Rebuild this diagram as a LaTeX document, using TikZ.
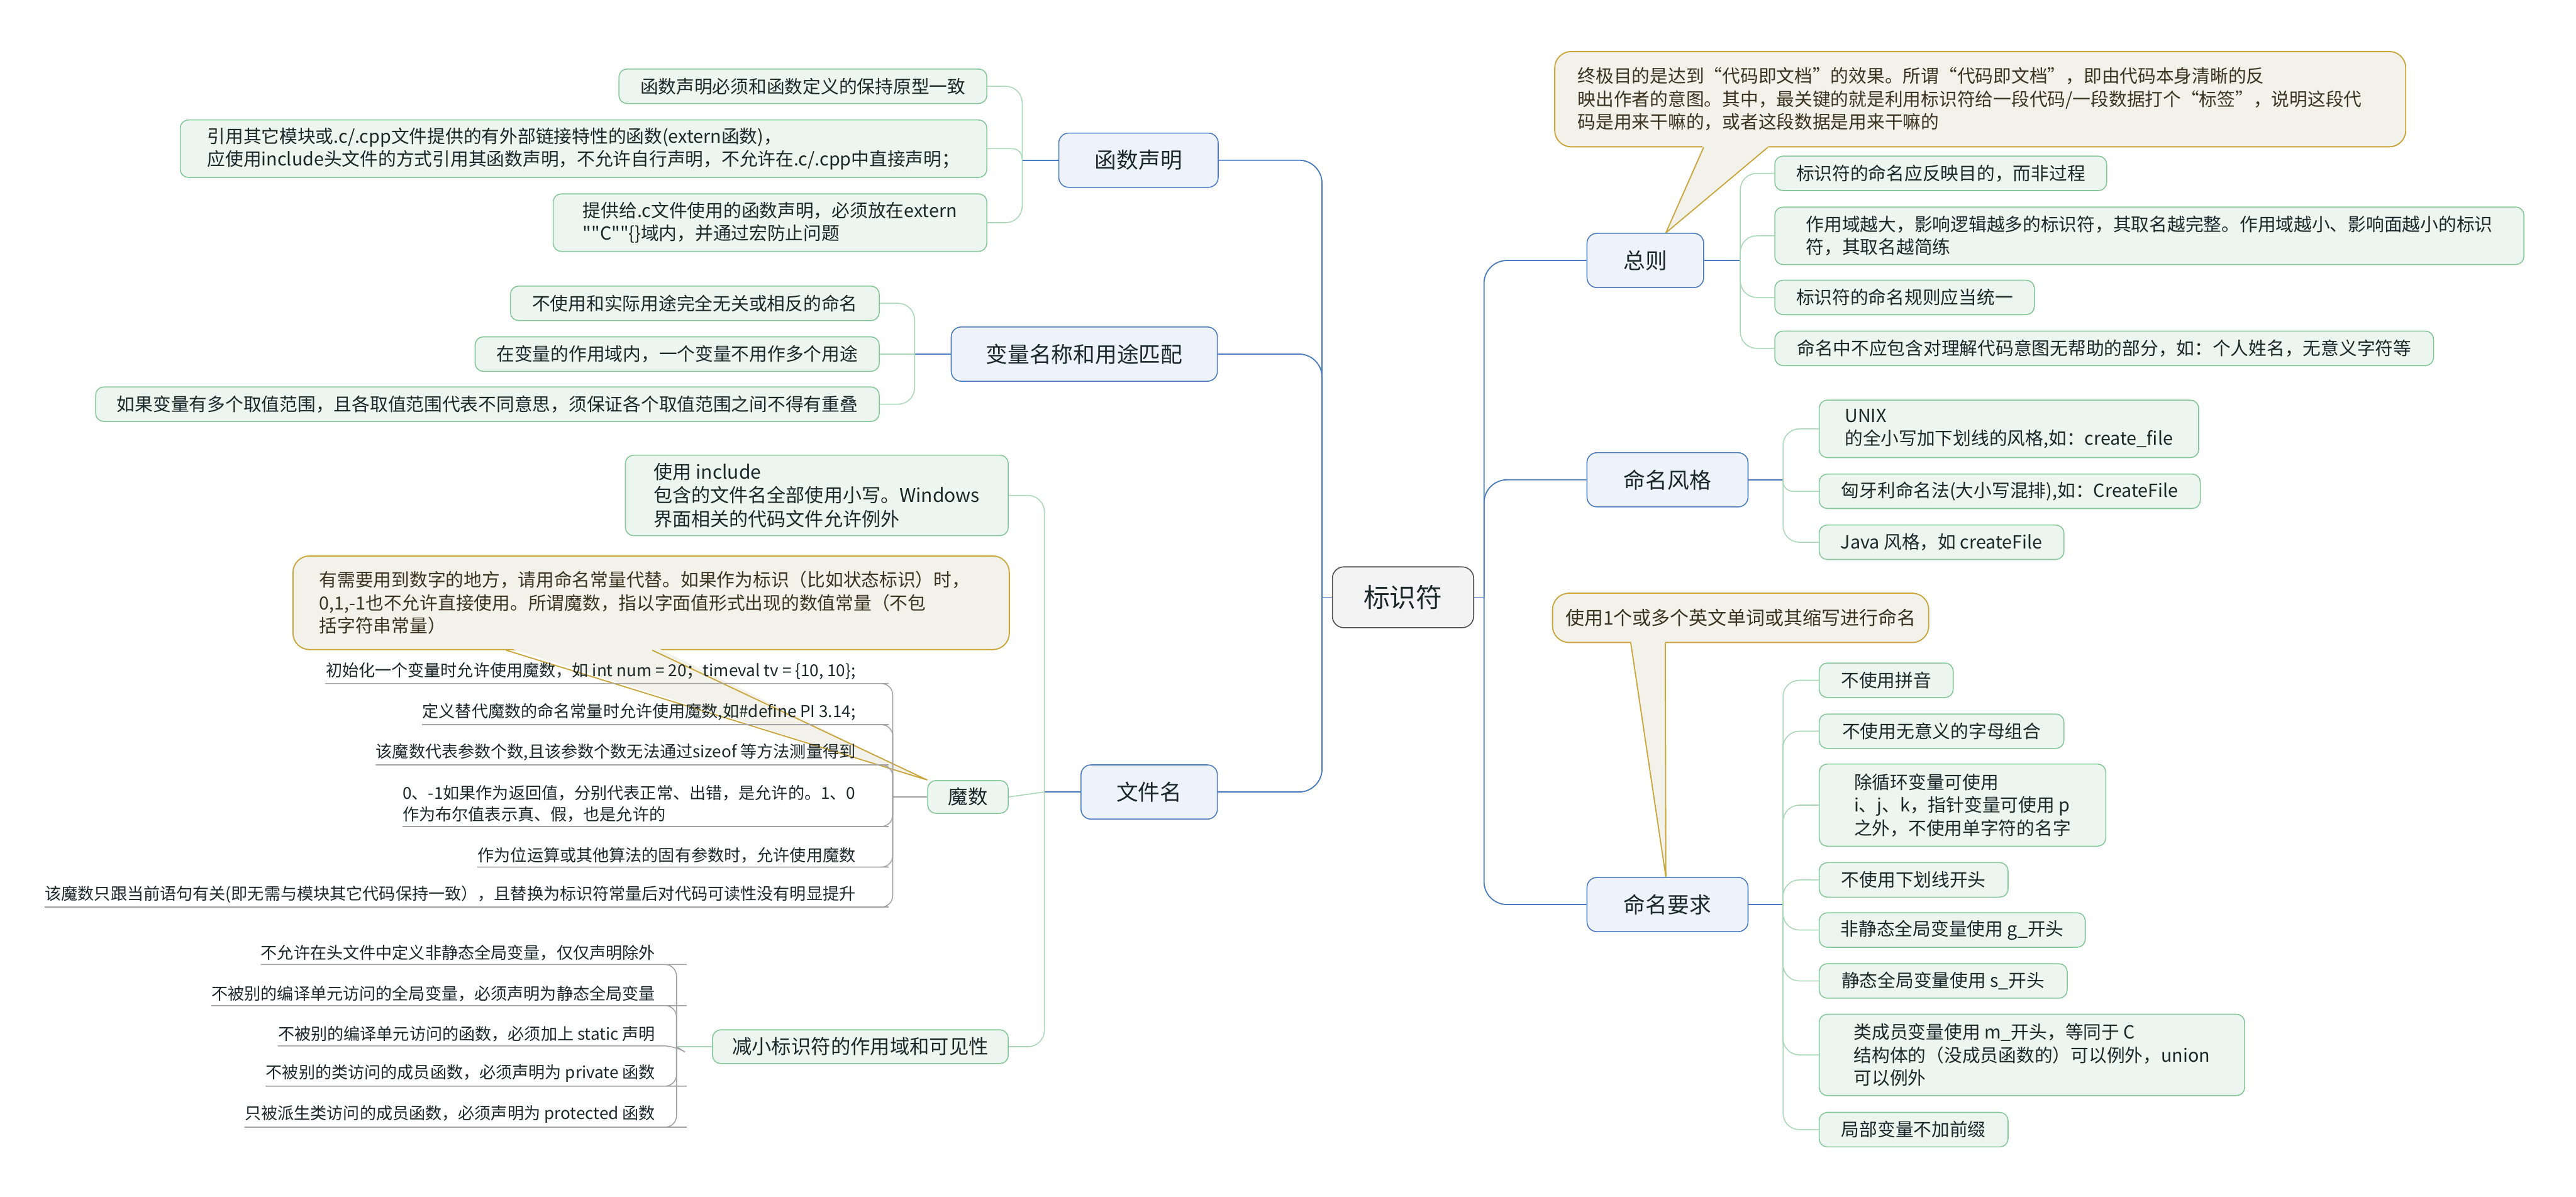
\documentclass[tikz,border=0pt]{standalone}
\usepackage{tikz}
\usepackage{fontspec}
\setmainfont{Noto Sans CJK SC}[Ligatures=TeXOff]
\usetikzlibrary{calc}
\pgfdeclarelayer{back}
\pgfsetlayers{back,main}
\definecolor{cTxt}{HTML}{1B2828}
\definecolor{cCallTxt}{HTML}{3A3320}
\definecolor{cRootFill}{HTML}{F3F3F3}
\definecolor{cRootLine}{HTML}{4D4D4D}
\definecolor{cMainFill}{HTML}{EEF3FB}
\definecolor{cMainLine}{HTML}{4A7BBF}
\definecolor{cLeafFill}{HTML}{ECF5EF}
\definecolor{cLeafLine}{HTML}{86C79A}
\definecolor{cLeafConn}{HTML}{A9D8B7}
\definecolor{cCallFill}{HTML}{F2F1EA}
\definecolor{cCallLine}{HTML}{C9A53A}
\definecolor{cUnder}{HTML}{A3A3A3}
\begin{document}
\begin{tikzpicture}[x=1pt,y=-1pt,
  every node/.style={text=cTxt},
  rootbox/.style={draw=cRootLine, fill=cRootFill, rounded corners=7pt, line width=0.6pt, minimum width=86pt, minimum height=37pt, inner sep=0pt, font=\fontsize{16}{19}\selectfont},
  mainbox/.style={draw=cMainLine, fill=cMainFill, rounded corners=6pt, line width=0.6pt, minimum height=33pt, inner sep=0pt, font=\fontsize{13.3}{16}\selectfont},
  leafbox/.style={draw=cLeafLine, fill=cLeafFill, rounded corners=5pt, line width=0.6pt, minimum height=21pt, inner xsep=12pt, inner ysep=3pt, align=left, font=\fontsize{11}{14}\selectfont},
  ltext/.style={inner xsep=0pt, inner ysep=2.2pt, anchor=south east, align=left, font=\fontsize{10}{13}\selectfont},
  callout/.style={draw=cCallLine, fill=cCallFill, rounded corners=10pt, line width=0.7pt, text=cCallTxt, align=left, font=\fontsize{11}{14}\selectfont},
  mainl/.style={draw=cMainLine, line width=0.7pt},
  leafl/.style={draw=cLeafConn, line width=0.6pt, rounded corners=#1},
  leafl/.default=10pt,
  ulin/.style={draw=cUnder, line width=0.6pt, rounded corners=7pt},
]
\useasboundingbox (0,0) rectangle (1568,728.4);

% ---------- root and main branches
\node[rootbox] (root) at (854,363.5) {标识符};
\node[mainbox, minimum width=97pt] (b1) at (693,97.5) {函数声明};
\node[mainbox, minimum width=162pt] (b2) at (660,215.5) {变量名称和用途匹配};
\node[mainbox, minimum width=83pt] (b3) at (699.5,482) {文件名};
\node[mainbox, minimum width=71pt] (r1) at (1001.5,158.5) {总则};
\node[mainbox, minimum width=98pt] (r2) at (1015,292) {命名风格};
\node[mainbox, minimum width=98pt] (r3) at (1015,550.5) {命名要求};

% ---------- 函数声明
\node[leafbox, anchor=east, minimum width=224pt] (a1) at (601,52.5) {函数声明必须和函数定义的保持原型一致};
\node[leafbox, anchor=east, minimum width=491pt, minimum height=35pt] (a2) at (601,90.5) {引用其它模块或.c/.cpp文件提供的有外部链接特性的函数(extern函数)，\\应使用include头文件的方式引用其函数声明，不允许自行声明，不允许在.c/.cpp中直接声明；};
\node[leafbox, anchor=east, minimum width=264pt, minimum height=35pt] (a3) at (601,135.5) {提供给.c文件使用的函数声明，必须放在extern\\""C""\{\}域内，并通过宏防止问题};

% ---------- 变量名称和用途匹配
\node[leafbox, anchor=east, minimum width=224.5pt] (c1) at (535.5,184.6) {不使用和实际用途完全无关或相反的命名};
\node[leafbox, anchor=east, minimum width=246pt] (c2) at (535.5,215.5) {在变量的作用域内，一个变量不用作多个用途};
\node[leafbox, anchor=east, minimum width=477pt] (c3) at (535.5,246) {如果变量有多个取值范围，且各取值范围代表不同意思，须保证各个取值范围之间不得有重叠};

% ---------- 文件名
\node[leafbox, anchor=east, minimum width=233pt, minimum height=49pt, font=\fontsize{11.5}{14.5}\selectfont] (d1) at (614,301.5) {使用 include\\包含的文件名全部使用小写。Windows\\界面相关的代码文件允许例外};
\node[leafbox, anchor=east, minimum width=49pt, minimum height=20pt, inner xsep=4pt, font=\fontsize{12}{14}\selectfont] (mo) at (614,485) {魔数};
\node[leafbox, anchor=east, minimum width=169pt, minimum height=20.5pt, font=\fontsize{12}{14}\selectfont] (d3) at (614,637) {减小标识符的作用域和可见性};

% ---------- 魔数 children
\node[ltext] (m1) at (521,416) {初始化一个变量时允许使用魔数，如 int num = 20；timeval tv = \{10, 10\};};
\node[ltext] (m2) at (521,441) {定义替代魔数的命名常量时允许使用魔数,如\#define PI 3.14;};
\node[ltext] (m3) at (521,465.5) {该魔数代表参数个数,且该参数个数无法通过sizeof 等方法测量得到};
\node[ltext] (m4) at (521,503) {0、-1如果作为返回值，分别代表正常、出错，是允许的。1、0\\作为布尔值表示真、假，也是允许的};
\node[ltext] (m5) at (521,527.7) {作为位运算或其他算法的固有参数时，允许使用魔数};
\node[ltext] (m6) at (521,552) {该魔数只跟当前语句有关(即无需与模块其它代码保持一致），且替换为标识符常量后对代码可读性没有明显提升};

% ---------- 减小标识符的作用域和可见性 children
\node[ltext] (k1) at (399,587) {不允许在头文件中定义非静态全局变量，仅仅声明除外};
\node[ltext] (k2) at (399,612) {不被别的编译单元访问的全局变量，必须声明为静态全局变量};
\node[ltext] (k3) at (399,636.5) {不被别的编译单元访问的函数，必须加上 static 声明};
\node[ltext] (k4) at (399,661) {不被别的类访问的成员函数，必须声明为 private 函数};
\node[ltext] (k5) at (399,686) {只被派生类访问的成员函数，必须声明为 protected 函数};

% ---------- 总则
\node[leafbox, anchor=west, minimum width=202pt] (e1) at (1080,105.5) {标识符的命名应反映目的，而非过程};
\node[leafbox, anchor=west, minimum width=456pt, minimum height=35pt] (e2) at (1080,143.5) {作用域越大，影响逻辑越多的标识符，其取名越完整。作用域越小、影响面越小的标识\\符，其取名越简练};
\node[leafbox, anchor=west, minimum width=158pt] (e3) at (1080,181) {标识符的命名规则应当统一};
\node[leafbox, anchor=west, minimum width=401pt] (e4) at (1080,212) {命名中不应包含对理解代码意图无帮助的部分，如：个人姓名，无意义字符等};

% ---------- 命名风格
\node[leafbox, anchor=west, minimum width=231pt, minimum height=35pt] (g1) at (1107,261) {UNIX\\的全小写加下划线的风格,如：create\_file};
\node[leafbox, anchor=west, minimum width=232pt] (g2) at (1107,299) {匈牙利命名法(大小写混排),如：CreateFile};
\node[leafbox, anchor=west, minimum width=149pt] (g3) at (1107,330) {Java 风格，如 createFile};

% ---------- 命名要求
\node[leafbox, anchor=west, minimum width=81.6pt] (h1) at (1107,414) {不使用拼音};
\node[leafbox, anchor=west, minimum width=149pt] (h2) at (1107,445) {不使用无意义的字母组合};
\node[leafbox, anchor=west, minimum width=174.5pt, minimum height=50pt] (h3) at (1107,490) {除循环变量可使用\\i、j、k，指针变量可使用 p\\之外，不使用单字符的名字};
\node[leafbox, anchor=west, minimum width=115pt] (h4) at (1107,535.5) {不使用下划线开头};
\node[leafbox, anchor=west, minimum width=162pt] (h5) at (1107,566) {非静态全局变量使用 g\_开头};
\node[leafbox, anchor=west, minimum width=151pt] (h6) at (1107,597) {静态全局变量使用 s\_开头};
\node[leafbox, anchor=west, minimum width=259pt, minimum height=49.5pt] (h7) at (1107,642) {类成员变量使用 m\_开头，等同于 C\\结构体的（没成员函数的）可以例外，union\\可以例外};
\node[leafbox, anchor=west, minimum width=115pt] (h8) at (1107,687.5) {局部变量不加前缀};

\begin{pgfonlayer}{back}
% ---------- callouts
\node[callout, anchor=north west, text width=490pt, inner xsep=14pt, minimum height=58pt] (n1) at (946,31) {终极目的是达到“代码即文档”的效果。所谓“代码即文档”，即由代码本身清晰的反\\映出作者的意图。其中，最关键的就是利用标识符给一段代码/一段数据打个“标签”，说明这段代\\码是用来干嘛的，或者这段数据是用来干嘛的};
\fill[cCallFill] ($(n1.south west)+(91,-2)$) -- ($(n1.south west)+(132,-2)$) -- ([xshift=12.5pt]r1.north) -- cycle;
\draw[cCallLine, line width=0.7pt] ($(n1.south west)+(91,0)$) -- ([xshift=12.5pt]r1.north) -- ($(n1.south west)+(130,0)$);

\node[callout, anchor=north west, text width=404pt, inner xsep=16pt, minimum height=57pt] (n2) at (178,338) {有需要用到数字的地方，请用命名常量代替。如果作为标识（比如状态标识）时，\\0,1,-1也不允许直接使用。所谓魔数，指以字面值形式出现的数值常量（不包\\括字符串常量）};
\fill[cCallFill] ($(n2.south west)+(130,-2)$) -- ($(n2.south west)+(221,-2)$) -- (mo.north west) -- cycle;
\draw[cCallLine, line width=0.7pt] ($(n2.south west)+(130,0)$) -- (mo.north west) -- ($(n2.south west)+(219,0)$);

\node[callout, minimum width=229pt, minimum height=30pt, inner xsep=6pt, font=\fontsize{11.5}{14}\selectfont] (n3) at (1059.5,376) {使用1个或多个英文单词或其缩写进行命名};
\fill[cCallFill] ($(n3.south west)+(48,-2)$) -- ($(n3.south west)+(69,-2)$) -- ([xshift=-1pt]r3.north) -- cycle;
\draw[cCallLine, line width=0.7pt] ($(n3.south west)+(48,0)$) -- ([xshift=-1pt]r3.north) -- ($(n3.south west)+(69,0)$);

% ---------- main connectors
\coordinate (tl) at ($(root.west)+(-6,0)$);
\coordinate (tr) at ($(root.east)+(6,0)$);
\draw[mainl] (root.west) -- (tl);
\draw[mainl] (root.east) -- (tr);
\foreach \n in {b1,b2,b3} \draw[mainl, rounded corners=14pt] (tl) |- (\n.east);
\foreach \n in {r1,r2,r3} \draw[mainl, rounded corners=14pt] (tr) |- (\n.west);

% ---------- 函数声明 connectors
\coordinate (t1) at ($(b1.west)+(-22,0)$);
\draw[mainl] (b1.west) -- (t1);
\draw[leafl] (t1) |- (a1.east);
\draw[leafl=6pt] (t1) |- (a2.east);
\draw[leafl] (t1) |- (a3.east);

% ---------- 变量名称 connectors
\coordinate (t2) at ($(b2.west)+(-22,0)$);
\draw[mainl] (b2.west) -- (t2);
\draw[leafl] (t2) |- (c1.east);
\draw[leafl] (t2) -- (c2.east);
\draw[leafl] (t2) |- (c3.east);

% ---------- 文件名 connectors
\coordinate (t3) at ($(b3.west)+(-22,0)$);
\draw[mainl] (b3.west) -- (t3);
\draw[leafl] (t3) |- (d1.east);
\draw[leafl] (t3) -- (mo.east);
\draw[leafl] (t3) |- (d3.east);

% ---------- 魔数 connectors
\coordinate (tm) at ($(mo.west)+(-21,0)$);
\draw[ulin] (mo.west) -- (tm);
\foreach \n in {m1,m2,m3,m4,m5,m6}
  \draw[ulin] (tm) |- ([xshift=13pt]\n.south east) -- (\n.south west);

% ---------- 减小 connectors
\coordinate (tk) at ($(d3.west)+(-21.6,0)$);
\draw[leafl] (d3.west) -- (tk);
\foreach \n in {k1,k2,k4,k5}
  \draw[ulin] (tk) |- ([xshift=12pt]\n.south east) -- (\n.south west);
\draw[ulin] (tk) -- ([xshift=12pt]k3.south east) -- (k3.south west);

% ---------- 总则 connectors
\coordinate (t4) at ($(r1.east)+(22,0)$);
\draw[mainl] (r1.east) -- (t4);
\foreach \n in {e1,e2,e3,e4} \draw[leafl] (t4) |- (\n.west);

% ---------- 命名风格 connectors
\coordinate (t5) at ($(r2.east)+(21,0)$);
\draw[mainl] (r2.east) -- (t5);
\draw[leafl] (t5) |- (g1.west);
\draw[leafl=6pt] (t5) |- (g2.west);
\draw[leafl] (t5) |- (g3.west);

% ---------- 命名要求 connectors
\coordinate (t6) at ($(r3.east)+(21,0)$);
\draw[mainl] (r3.east) -- (t6);
\foreach \n in {h1,h2,h3,h4,h5,h6,h7,h8} \draw[leafl] (t6) |- (\n.west);
\end{pgfonlayer}
\end{tikzpicture}
\end{document}
